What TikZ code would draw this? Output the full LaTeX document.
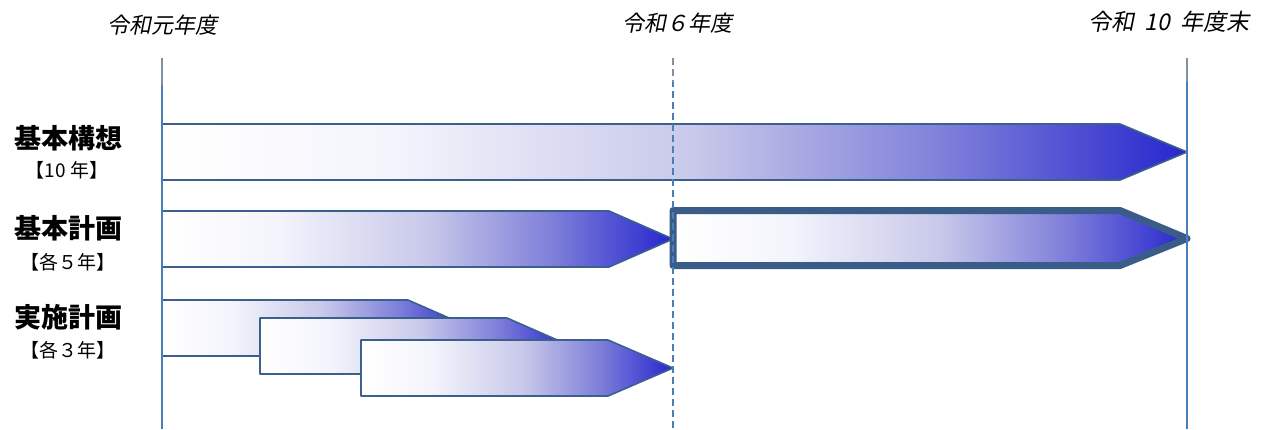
\documentclass[tikz,border=0pt]{standalone}
\usepackage{fontspec}
\newfontfamily\jp{Noto Sans CJK JP}
\newfontfamily\jpsl[FakeSlant=0.2]{Noto Sans CJK JP}
\definecolor{g0}{RGB}{255,255,255}
\definecolor{g1}{RGB}{244,245,252}
\definecolor{g2}{RGB}{200,200,234}
\definecolor{g3}{RGB}{128,128,218}
\definecolor{g4}{RGB}{38,38,206}
\definecolor{barline}{RGB}{58,96,142}
\definecolor{thickline}{RGB}{58,92,136}
\definecolor{vblue}{RGB}{74,126,187}
\definecolor{vgrey}{RGB}{130,145,160}
\pgfdeclarehorizontalshading{bargrad}{100bp}{color(0bp)=(g0); color(25bp)=(g0); color(36bp)=(g1); color(51bp)=(g2); color(63bp)=(g3); color(75bp)=(g4); color(100bp)=(g4)}
\tikzset{
  bar/.style={draw=barline, line width=1.6pt, shading=bargrad, line join=round},
  thickbar/.style={bar, draw=thickline, line width=7pt},
  vline/.style={draw=vblue, line width=2pt},
  vtop/.style={draw=vgrey, line width=2pt},
  toplab/.style={font=\jpsl\fontsize{22pt}{24pt}\selectfont, inner sep=0pt},
  mainlab/.style={font=\jp\bfseries\fontsize{27pt}{29pt}\selectfont, inner sep=0pt},
  sublab/.style={font=\jp\fontsize{19pt}{21pt}\selectfont, inner sep=0pt}
}
\begin{document}
\begin{tikzpicture}[x=1pt,y=-1pt]
\useasboundingbox (0,0) rectangle (1265,429);
% bars
\path[bar] (162,124) -- (1120,124) -- (1187,152) -- (1120,180) -- (162,180) -- cycle;
\path[bar] (162,211) -- (609,211) -- (673,239) -- (609,267) -- (162,267) -- cycle;
\path[thickbar] (673,210.5) -- (1120,210.5) -- (1187,238.5) -- (1120,265.5) -- (673,265.5) -- cycle;
\path[bar] (162,300) -- (408,300) -- (472,328) -- (408,356) -- (162,356) -- cycle;
\path[bar] (260,318) -- (507,318) -- (571,346) -- (507,374) -- (260,374) -- cycle;
\path[bar] (361,340) -- (608,340) -- (673,368) -- (608,396) -- (361,396) -- cycle;
% vertical lines
\coordinate (a0) at (162,58); \coordinate (m0) at (162,85); \coordinate (e0) at (162,429);
\coordinate (a6) at (673,58); \coordinate (m6) at (673,82); \coordinate (e6) at (673,429);
\coordinate (a10) at (1187,58); \coordinate (m10) at (1187,82); \coordinate (e10) at (1187,429);
\draw[vtop] (a0) -- (m0);
\draw[vline] (m0) -- (e0);
\draw[vtop, line width=1.5pt, dash pattern=on 7pt off 4pt] (a6) -- (m6);
\draw[vline, line width=1.5pt, dash pattern=on 7pt off 4pt, dash phase=2pt] (m6) -- (e6);
\draw[vtop] (a10) -- (m10);
\draw[vline] (m10) -- (e10);
% top labels
\node[toplab] (y0) at (162,25) {令和元年度};
\node[toplab] (y6) at (677,23) {令和６年度};
\node[toplab, font=\jpsl\fontsize{23pt}{25pt}\selectfont] (y10) at (1169,22) {令和\hspace{10pt}10\hspace{10pt}年度末};
% left labels
\node[mainlab] (k1) at (68,138) {基本構想};
\node[sublab] (s1) at (67,170) {【10\hspace{5pt}年】};
\node[mainlab] (k2) at (68,228) {基本計画};
\node[sublab] (s2) at (68,262) {【各５年】};
\node[mainlab] (k3) at (68,317) {実施計画};
\node[sublab] (s3) at (68,350) {【各３年】};
\end{tikzpicture}
\end{document}
